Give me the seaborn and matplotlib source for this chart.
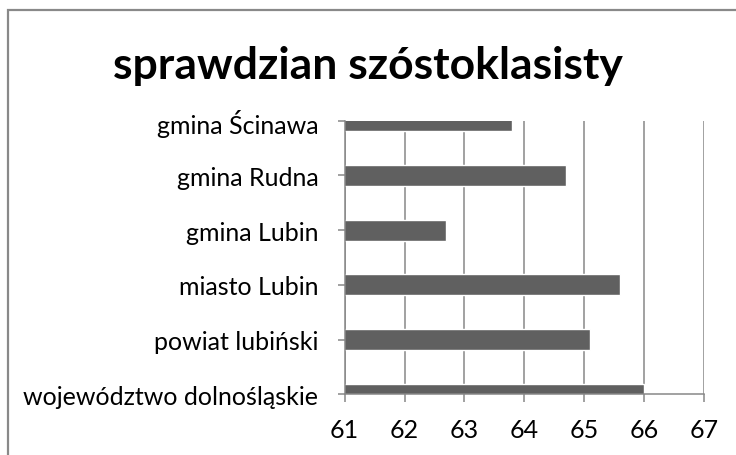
import matplotlib
matplotlib.use("Agg")
import matplotlib.pyplot as plt
import seaborn as sns
import pandas as pd
from matplotlib.patches import Rectangle

categories = ["gmina Ścinawa", "gmina Rudna", "gmina Lubin", "miasto Lubin",
              "powiat lubiński", "województwo dolnośląskie"]
values = [63.8, 64.7, 62.7, 65.6, 65.1, 66.0]
x_ticks = [61, 62, 63, 64, 65, 66, 67]
title = "sprawdzian szóstoklasisty"

sns.set_theme(style="white")
plt.rcParams['font.family'] = ['Lato', 'DejaVu Sans']

df = pd.DataFrame({"cat": categories, "val": values})

fig = plt.figure(figsize=(7.36, 4.56), dpi=100)
ax = fig.add_axes([0.4683, 0.1331, 0.9565 - 0.4683, 0.7331 - 0.1331])

sns.barplot(data=df, x="val", y="cat", order=categories, orient="h",
            color="#606060", saturation=1, width=0.38, ax=ax, zorder=3)

ax.set_xlim(61, 67)
ax.set_ylim(len(categories) - 1, 0)
ax.set_xticks(x_ticks)
ax.set_xticklabels([str(t) for t in x_ticks])
ax.set_xlabel("")
ax.set_ylabel("")

ax.grid(axis="x", color="#878787", linewidth=1.1, zorder=0)
ax.grid(axis="y", visible=False)
for s in ["top", "right"]:
    ax.spines[s].set_visible(False)
for s in ["left", "bottom"]:
    ax.spines[s].set_color("#878787")
    ax.spines[s].set_linewidth(1.1)
    ax.spines[s].set_zorder(4)

ax.tick_params(axis="x", length=5.5, width=1.1, color="#878787",
               bottom=True, labelsize=18, pad=11.5, labelcolor="black")
ax.tick_params(axis="y", length=5, width=1.1, color="#878787",
               left=True, labelsize=18, pad=14, labelcolor="black")

fig.text(0.5, 0.855, title, ha="center", va="center",
         fontsize=32, fontweight="bold", color="black")

border = Rectangle((7.5 / 736, -0.1), 1.2, 1.1 - 10.5 / 456,
                   transform=fig.transFigure, fill=False,
                   edgecolor="#898989", linewidth=1.6)
fig.patches.append(border)

fig.savefig("out.png", dpi=100, facecolor="white")
